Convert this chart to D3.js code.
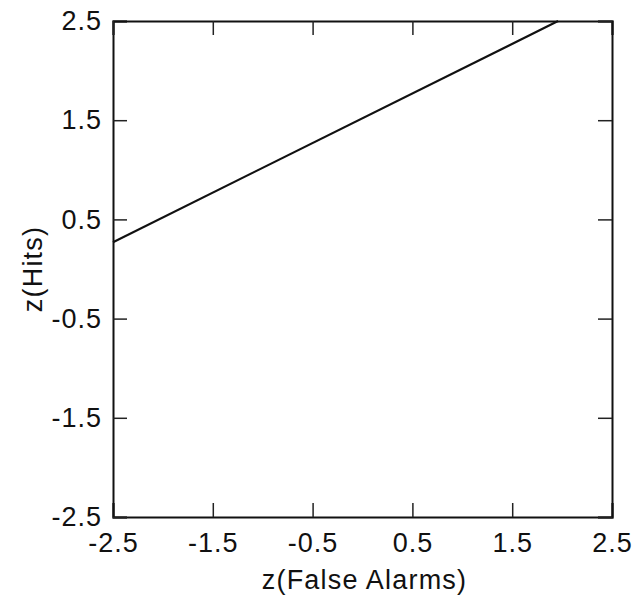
<!DOCTYPE html>
<html>
<head>
<meta charset="utf-8">
<script src="https://cdn.jsdelivr.net/npm/d3@7"></script>
<style>
  html, body { margin: 0; padding: 0; background: #fff; }
  svg { display: block; }
  text { font-family: "Liberation Sans", Arial, Helvetica, sans-serif; fill: #111; }
</style>
</head>
<body>
<svg id="chart" width="638" height="599"></svg>
<script>
// Data
const tickValues = [-2.5, -1.5, -0.5, 0.5, 1.5, 2.5];
const tickLabels = ["-2.5", "-1.5", "-0.5", "0.5", "1.5", "2.5"];
const lineX = [-2.5, 1.96];
const lineY = [0.27, 2.5];
const xTitle = "z(False Alarms)";
const yTitle = "z(Hits)";

const svg = d3.select("#chart");
const margin = { left: 113, top: 21, right: 638 - 612, bottom: 599 - 517 };
const W = 638 - margin.left - margin.right;
const H = 599 - margin.top - margin.bottom;

const x = d3.scaleLinear().domain([-2.5, 2.5]).range([0, W]);
const y = d3.scaleLinear().domain([-2.5, 2.5]).range([H, 0]);

const g = svg.append("g").attr("transform", `translate(${margin.left},${margin.top})`);

const fmt = (d) => tickLabels[tickValues.indexOf(d)];
const tickLen = 14;

const xb = g.append("g").attr("transform", `translate(0,${H})`)
  .call(d3.axisBottom(x).tickValues(tickValues).tickFormat(fmt).tickSize(-tickLen).tickPadding(16));
const yl = g.append("g")
  .call(d3.axisLeft(y).tickValues(tickValues).tickFormat(fmt).tickSize(-tickLen).tickPadding(11));
const xt = g.append("g")
  .call(d3.axisTop(x).tickValues(tickValues).tickFormat("").tickSize(-tickLen));
const yr = g.append("g").attr("transform", `translate(${W},0)`)
  .call(d3.axisRight(y).tickValues(tickValues).tickFormat("").tickSize(-tickLen));

[xb, yl, xt, yr].forEach(a => {
  a.select(".domain").attr("stroke", "#111").attr("stroke-width", 2);
  a.selectAll(".tick line").attr("stroke", "#222").attr("stroke-width", 1.5);
  a.selectAll(".tick text").attr("font-size", 27).attr("fill", "#111")
    .style("letter-spacing", "1px")
    .style("font-family", "'Liberation Sans', Arial, sans-serif");
});

const pts = lineX.map((v, i) => [v, lineY[i]]);
g.append("path")
  .datum(pts)
  .attr("fill", "none")
  .attr("stroke", "#111")
  .attr("stroke-width", 2.2)
  .attr("d", d3.line().x(d => x(d[0])).y(d => y(d[1])));

svg.append("text")
  .attr("x", margin.left + W / 2 + 2)
  .attr("y", 589)
  .attr("text-anchor", "middle")
  .attr("font-size", 27)
  .style("letter-spacing", "1.2px")
  .text(xTitle);

svg.append("text")
  .attr("transform", `translate(42, ${margin.top + H / 2}) rotate(-90)`)
  .attr("text-anchor", "middle")
  .attr("font-size", 27)
  .style("letter-spacing", "1.2px")
  .text(yTitle);
</script>
</body>
</html>
